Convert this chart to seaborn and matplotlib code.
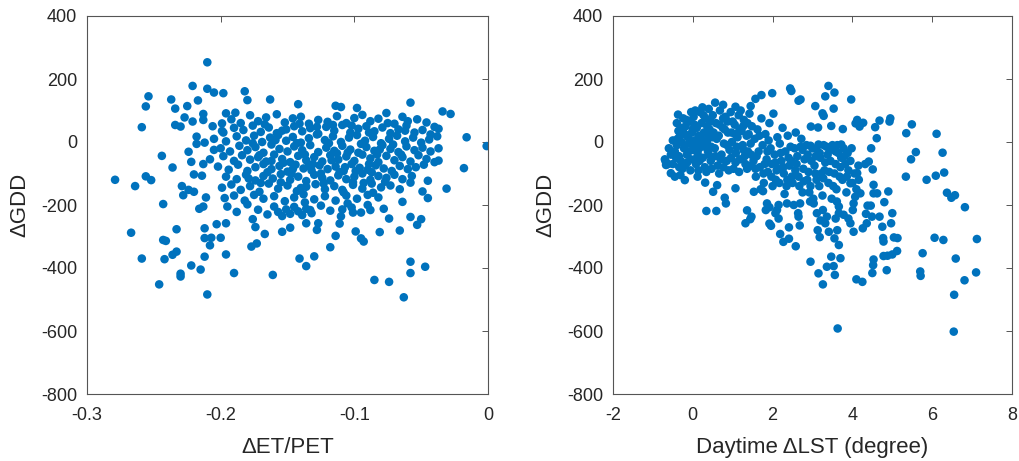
import numpy as np
import pandas as pd
import matplotlib
matplotlib.use("Agg")
import matplotlib.pyplot as plt
import seaborn as sns

# ---------------- data ----------------
# Left panel: (dET/PET, dGDD)
left_scattered = [
    (-0.210, 253), (-0.221, 178), (-0.210, 169), (-0.205, 157), (-0.198, 155),
    (-0.254, 145), (-0.256, 113), (-0.237, 135), (-0.234, 106), (-0.225, 114),
    (-0.217, 132), (-0.259, 47), (-0.234, 54), (-0.230, 49), (-0.227, 78),
    (-0.221, 65), (-0.213, 89), (-0.182, 161), (-0.180, 133), (-0.163, 135),
    (-0.142, 120), (-0.114, 115), (-0.110, 111), (-0.098, 108), (-0.058, 125),
    (-0.034, 97), (-0.028, 89), (-0.016, 15), (-0.001, -13), (-0.018, -83),
    (-0.031, -148), (-0.037, -59), (-0.037, 42), (-0.045, -178), (-0.049, -157),
    (-0.045, -123), (-0.050, -245), (-0.053, -263), (-0.058, -238), (-0.058, -380),
    (-0.058, -416), (-0.047, -396), (-0.063, -493), (-0.074, -444), (-0.085, -438),
    (-0.066, -281), (-0.074, -243), (-0.081, -286), (-0.064, -190), (-0.058, -129),
    (-0.093, -316), (-0.095, -306), (-0.099, -284), (-0.101, -224), (-0.105, -195),
    (-0.088, -216), (-0.086, -161), (-0.109, -214), (-0.109, -152), (-0.111, -259),
    (-0.114, -298), (-0.118, -334), (-0.128, -279), (-0.130, -363), (-0.136, -394),
    (-0.141, -370), (-0.136, -258), (-0.133, -216), (-0.127, -258), (-0.137, -192),
    (-0.148, -272), (-0.154, -285), (-0.161, -422), (-0.177, -332), (-0.173, -322),
    (-0.167, -292), (-0.174, -270), (-0.176, -245), (-0.190, -416), (-0.196, -357),
    (-0.196, -258), (-0.203, -261), (-0.200, -304), (-0.207, -304), (-0.208, -328),
    (-0.212, -305), (-0.212, -274), (-0.212, -364), (-0.210, -484), (-0.215, -405),
    (-0.222, -392), (-0.230, -418), (-0.230, -427), (-0.233, -348), (-0.236, -358),
    (-0.233, -277), (-0.241, -314), (-0.243, -311), (-0.242, -372), (-0.246, -452),
    (-0.259, -370), (-0.267, -288), (-0.279, -120), (-0.264, -140), (-0.256, -109),
    (-0.252, -121), (-0.243, -197), (-0.244, -44), (-0.236, -81), (-0.229, -140),
    (-0.228, -169), (-0.224, -152), (-0.220, -158), (-0.216, -212), (-0.213, -205),
    (-0.211, -176), (-0.220, -103), (-0.214, -107), (-0.224, -31), (-0.218, -6),
    (-0.218, 17), (-0.212, -2), (-0.205, -25), (-0.222, -63), (-0.213, -70),
    (-0.206, 50), (-0.213, 70), (-0.199, 59), (-0.196, 91), (-0.189, 93),
    (-0.199, 35),
]
left_core = [
    (-0.192, 72), (-0.185, 60), (-0.178, 85), (-0.172, 66), (-0.166, 78), (-0.158, 88),
    (-0.152, 62), (-0.146, 75), (-0.140, 80), (-0.134, 58), (-0.127, 70), (-0.120, 64),
    (-0.113, 82), (-0.106, 60), (-0.100, 76), (-0.094, 86), (-0.088, 66), (-0.082, 74),
    (-0.076, 92), (-0.070, 58), (-0.064, 80), (-0.060, 66), (-0.053, 72), (-0.046, 62),
    (-0.198, 30), (-0.190, 45), (-0.183, 38), (-0.176, 52), (-0.170, 32), (-0.164, 46),
    (-0.158, 28), (-0.151, 40), (-0.145, 50), (-0.139, 34), (-0.133, 44), (-0.127, 26),
    (-0.121, 48), (-0.115, 36), (-0.109, 54), (-0.103, 30), (-0.097, 42), (-0.091, 50),
    (-0.085, 34), (-0.079, 46), (-0.073, 28), (-0.067, 40), (-0.061, 52), (-0.055, 30),
    (-0.049, 38), (-0.043, 24), (-0.040, 48),
    (-0.205, 10), (-0.196, 2), (-0.188, 18), (-0.181, 5), (-0.175, 20), (-0.169, 0),
    (-0.163, 14), (-0.157, 22), (-0.151, 4), (-0.146, 16), (-0.140, -2), (-0.134, 12),
    (-0.128, 24), (-0.122, 6), (-0.116, 18), (-0.110, 0), (-0.104, 14), (-0.098, 22),
    (-0.092, 4), (-0.086, 16), (-0.080, -4), (-0.074, 10), (-0.068, 20), (-0.062, 2),
    (-0.056, 14), (-0.050, -2), (-0.044, 8), (-0.038, 18),
    (-0.200, -20), (-0.193, -30), (-0.186, -12), (-0.180, -26), (-0.174, -16),
    (-0.168, -34), (-0.162, -8), (-0.156, -22), (-0.150, -30), (-0.145, -14),
    (-0.139, -26), (-0.133, -10), (-0.127, -32), (-0.121, -18), (-0.115, -28),
    (-0.109, -12), (-0.103, -24), (-0.097, -34), (-0.091, -16), (-0.085, -28),
    (-0.079, -10), (-0.073, -22), (-0.067, -32), (-0.061, -14), (-0.055, -26),
    (-0.049, -18), (-0.043, -30), (-0.037, -20),
    (-0.208, -55), (-0.198, -45), (-0.190, -60), (-0.184, -42), (-0.178, -56),
    (-0.172, -48), (-0.166, -62), (-0.160, -40), (-0.154, -54), (-0.148, -64),
    (-0.142, -44), (-0.136, -58), (-0.130, -48), (-0.124, -62), (-0.118, -42),
    (-0.112, -56), (-0.106, -46), (-0.100, -60), (-0.094, -40), (-0.088, -52),
    (-0.082, -64), (-0.076, -44), (-0.070, -58), (-0.064, -48), (-0.058, -62),
    (-0.052, -42), (-0.046, -54), (-0.040, -64),
    (-0.202, -78), (-0.194, -88), (-0.187, -72), (-0.180, -92), (-0.174, -80),
    (-0.168, -70), (-0.162, -86), (-0.156, -76), (-0.150, -94), (-0.144, -72),
    (-0.138, -84), (-0.132, -90), (-0.126, -74), (-0.120, -86), (-0.114, -78),
    (-0.108, -92), (-0.102, -70), (-0.096, -82), (-0.090, -88), (-0.084, -74),
    (-0.078, -84), (-0.072, -92), (-0.066, -76), (-0.060, -86), (-0.054, -80),
    (-0.048, -72),
    (-0.196, -110), (-0.188, -118), (-0.181, -104), (-0.174, -122), (-0.168, -108),
    (-0.161, -116), (-0.155, -102), (-0.148, -120), (-0.142, -110), (-0.136, -124),
    (-0.130, -104), (-0.124, -114), (-0.118, -122), (-0.112, -106), (-0.106, -118),
    (-0.100, -110), (-0.094, -100), (-0.088, -120), (-0.082, -108), (-0.076, -114),
    (-0.070, -104), (-0.064, -118), (-0.057, -108),
    (-0.199, -145), (-0.192, -135), (-0.185, -152), (-0.178, -140), (-0.171, -158),
    (-0.164, -132), (-0.157, -148), (-0.150, -138), (-0.143, -156), (-0.136, -142),
    (-0.129, -134), (-0.122, -150), (-0.115, -140), (-0.108, -160), (-0.101, -136),
    (-0.094, -148), (-0.087, -132), (-0.080, -144), (-0.073, -138), (-0.066, -150),
    (-0.197, -178), (-0.190, -170), (-0.182, -186), (-0.175, -168), (-0.168, -180),
    (-0.160, -172), (-0.152, -188), (-0.145, -176), (-0.138, -166), (-0.130, -182),
    (-0.122, -172), (-0.114, -186), (-0.106, -170), (-0.098, -180), (-0.090, -168),
    (-0.082, -176),
    (-0.195, -205), (-0.188, -222), (-0.180, -198), (-0.172, -215), (-0.165, -230),
    (-0.160, -205), (-0.157, -222), (-0.154, -235), (-0.151, -214), (-0.148, -228),
    (-0.145, -206), (-0.142, -220), (-0.139, -232), (-0.136, -212), (-0.132, -226),
    (-0.125, -202), (-0.118, -218), (-0.110, -236), (-0.102, -208), (-0.095, -224),
    (-0.090, -200), (-0.078, -212),
]
left_center = [
    (-0.176, -4), (-0.171, -42), (-0.165, -96), (-0.159, 6), (-0.153, -66),
    (-0.147, -100), (-0.143, -4), (-0.137, -40), (-0.131, -70), (-0.125, -100),
    (-0.119, -4), (-0.113, -36), (-0.107, -80), (-0.101, -128), (-0.095, -6),
    (-0.089, -70), (-0.083, -40), (-0.077, -126), (-0.071, -8), (-0.065, -40),
    (-0.179, -116), (-0.170, -130), (-0.162, -60), (-0.155, -128), (-0.146, -86),
    (-0.140, -146), (-0.134, -76), (-0.123, -132), (-0.117, -58), (-0.111, -96),
    (-0.105, -34), (-0.099, -92), (-0.093, -130), (-0.087, -96), (-0.081, -24),
    (-0.167, 56), (-0.154, 36), (-0.141, 58), (-0.128, 48), (-0.116, 54),
    (-0.102, 52), (-0.089, 30), (-0.075, 60), (-0.062, 36),
]

# Right panel: (daytime dLST, dGDD)
right_scattered = [
    (3.40, 178), (3.55, 157), (3.32, 145), (3.53, 106), (3.97, 135), (2.44, 170),
    (2.47, 162), (1.99, 155), (1.72, 149), (1.57, 137), (1.45, 114), (1.07, 112),
    (0.56, 125), (0.76, 118), (-0.37, 87), (2.65, 131), (2.70, 135), (3.07, 114),
    (3.25, 91), (3.28, 83), (2.96, 49), (3.14, 46), (3.47, 51), (3.76, 41),
    (4.12, 70), (4.27, 61), (4.08, 59), (4.18, 49), (4.57, 47), (4.68, 68),
    (4.95, 75), (4.93, 65), (4.61, 12), (4.47, -20), (5.35, 28), (5.49, 56),
    (6.11, 26), (5.59, -32), (5.47, -55), (6.26, -34), (5.34, -110), (5.86, -120),
    (6.09, -107), (6.30, -97), (6.37, -161), (6.48, -177), (6.57, -169), (6.82, -207),
    (6.06, -304), (6.28, -311), (7.12, -308), (6.59, -370), (7.10, -414), (6.81, -439),
    (6.55, -485), (6.54, -602), (3.63, -592), (5.76, -353), (5.70, -411), (5.71, -425),
    (5.13, -305), (5.04, -303), (5.12, -346), (5.00, -357), (4.88, -361), (4.78, -362),
    (4.86, -407), (4.53, -373), (4.52, -391), (4.50, -416), (4.25, -444), (4.10, -436),
    (4.77, -305), (4.78, -316), (4.75, -269), (4.97, -258), (5.00, -226), (4.68, -237),
    (4.49, -237), (4.36, -258), (4.26, -274), (4.03, -285), (4.80, -191), (4.90, -157),
    (4.53, -163), (4.62, -163), (4.53, -136), (4.51, -87), (4.41, -62), (4.32, -70),
    (4.46, -202), (4.38, -202), (4.34, -228), (3.70, -369), (3.47, -364), (3.56, -422),
    (3.36, -396), (3.53, -394), (3.26, -452), (3.15, -417), (2.95, -380), (2.58, -331),
    (2.27, -317), (2.41, -307), (2.19, -292), (2.41, -271), (2.68, -265), (1.96, -266),
    (1.92, -259), (1.32, -258), (1.44, -245), (1.47, -237), (1.36, -217), (0.59, -219),
    (0.34, -219), (0.80, -177), (0.83, -195), (0.51, -158), (0.61, -137), (0.31, -129),
    (0.12, -110), (-0.20, -121), (-0.45, -110), (-0.55, -99), (-0.31, -105), (-0.68, -62),
    (-0.67, -73), (1.07, -147), (1.53, -158), (1.76, -156), (3.61, -189), (3.66, -205),
    (3.66, -226), (3.58, -243), (3.36, -237), (3.32, -258), (3.41, -285), (3.55, -306),
    (3.66, -327), (3.62, -280), (3.13, -280), (3.18, -302), (3.20, -249), (3.26, -216),
    (3.11, -226), (3.03, -195), (2.94, -189), (2.69, -195), (2.64, -226), (2.65, -237),
    (2.53, -200), (2.36, -195), (2.15, -200), (2.11, -216), (2.07, -226), (2.15, -243),
    (1.83, -216), (1.92, -207), (1.86, -195), (3.78, -231), (3.90, -243), (3.95, -258),
    (4.01, -216), (4.03, -195), (4.07, -174), (4.20, -163), (3.95, -131), (3.86, -110),
    (4.12, -99), (4.16, -120),
]
right_core = [
    (-0.45, -30), (-0.40, -10), (-0.38, 10), (-0.35, -45), (-0.32, 20), (-0.30, -60),
    (-0.28, 0), (-0.25, 35), (-0.22, -20), (-0.20, -75), (-0.18, 50), (-0.15, -40),
    (-0.12, 15), (-0.10, -5), (-0.08, 65), (-0.05, -55), (-0.02, 30), (0.00, -25),
    (0.02, 80), (0.05, 5), (0.08, -70), (0.10, 45), (0.12, -35), (0.15, 20),
    (0.18, 95), (0.20, -10), (0.22, 60), (0.25, -50), (0.28, 30), (0.30, -80),
    (0.32, 75), (0.35, 0), (0.38, -30), (0.40, 105), (0.42, 40), (0.45, -60),
    (0.48, 15), (0.50, 85), (-0.42, -50), (-0.36, 35), (-0.26, -85), (-0.16, 70),
    (-0.06, -90), (0.04, 55), (0.14, -90), (0.24, 110), (0.34, -95), (0.44, 65),
    (-0.30, 45), (-0.20, 25), (-0.10, -30), (0.00, 40), (0.10, -50), (0.20, 10),
    (0.30, -15), (0.40, -40), (-0.55, -40), (-0.60, -20), (-0.50, 5), (0.06, 100),
    (0.16, -20), (0.26, 5), (0.36, 50), (0.46, -15), (-0.70, -55), (-0.62, -70),
    (0.55, -20), (0.58, 60), (0.62, -75), (0.65, 20), (0.68, 100), (0.72, -40),
    (0.75, 45), (0.78, -5), (0.82, 80), (0.85, -60), (0.88, 30), (0.92, -25),
    (0.95, 95), (0.98, 0), (1.02, -85), (1.05, 55), (1.08, -35), (1.12, 15),
    (1.15, 85), (1.18, -55), (1.22, 35), (1.25, -10), (1.28, 70), (1.32, -70),
    (1.35, 20), (1.38, -30), (1.42, 90), (1.45, -5), (1.48, 50), (0.60, 10),
    (0.70, -55), (0.80, 40), (0.90, -90), (1.00, 65), (1.10, -15), (1.20, 100),
    (1.30, -45), (1.40, 25), (0.52, 30), (0.66, -100), (0.76, 75), (0.86, -10),
    (0.96, -50), (1.06, 25), (1.16, -95), (1.26, 50), (1.36, -85), (1.46, -40),
    (1.52, -60), (1.55, 10), (1.58, -110), (1.62, 40), (1.65, -30), (1.68, -80),
    (1.72, 75), (1.75, -10), (1.78, -130), (1.82, 25), (1.85, -55), (1.88, -95),
    (1.92, 60), (1.95, -20), (1.98, -70), (2.02, 90), (2.05, -40), (2.08, -120),
    (2.12, 15), (2.15, -85), (2.18, -5), (2.22, -60), (2.25, 45), (2.28, -100),
    (2.32, -30), (2.35, -140), (2.38, 20), (2.42, -75), (2.45, -15), (2.48, -110),
    (1.60, -45), (1.70, -150), (1.80, -70), (1.90, 5), (2.00, -140), (2.10, -90),
    (2.20, -35), (2.30, -165), (2.40, -50), (2.50, -130),
    (2.55, -20), (2.60, -70), (2.65, -110), (2.70, -15), (2.75, -160), (2.80, -55),
    (2.85, -10), (2.90, -95), (2.95, -140), (3.00, -20), (3.05, -75), (3.10, -120),
    (3.15, -8), (3.20, -50), (3.25, -170), (3.30, -90), (3.35, -15), (3.40, -130),
    (3.45, -60), (3.50, -10), (3.55, -100), (3.60, -150), (3.65, -35), (3.70, -80),
    (3.75, -120), (3.80, -45), (3.85, -160), (3.90, -90), (3.95, -60), (4.00, -130),
    (4.05, -100), (4.10, -150), (2.58, 30), (2.72, 10), (2.88, -40), (3.02, -180),
    (3.18, -35), (3.32, -65), (3.48, -180), (3.62, -10), (3.78, -20), (2.62, -45),
    (2.78, -125), (2.92, -160), (3.08, -45), (3.22, -100), (3.38, -40), (3.52, -140),
    (3.68, -110), (3.82, -70), (3.98, -20), (4.15, -75),
]
right_center = [
    (-0.50, -70), (-0.40, 60), (-0.34, -80), (-0.24, 75), (-0.14, -65), (-0.04, 95),
    (0.07, -15), (0.17, -60), (0.27, 85), (0.37, 25), (0.47, -85), (0.57, -45),
    (0.67, 55), (0.77, -80), (0.87, 65), (0.97, 30), (1.07, -65), (1.17, 40),
    (1.27, -25), (1.37, 60), (1.47, -75), (1.57, -85), (1.67, 20), (1.77, -100),
    (1.87, -30), (1.97, -110), (2.07, -65), (2.17, -130), (2.27, -80), (2.37, -120),
    (2.47, -60), (2.57, -90), (2.67, -140), (2.77, -85), (2.87, -120), (2.97, -60),
    (3.07, -100), (3.17, -140), (3.27, -115), (3.42, -95), (3.58, -70), (3.72, -50),
    (2.75, -25), (2.95, -12), (3.10, -22), (3.28, -10), (3.44, -25), (3.58, -30),
    (3.72, -8), (3.88, -35),
]

left_xticks = [-0.3, -0.2, -0.1, 0]
left_xticklabels = ["-0.3", "-0.2", "-0.1", "0"]
right_xticks = [-2, 0, 2, 4, 6, 8]
yticks = [-800, -600, -400, -200, 0, 200, 400]

left_df = pd.DataFrame(left_scattered + left_core + left_center, columns=["x", "y"])
right_df = pd.DataFrame(right_scattered + right_core + right_center, columns=["x", "y"])

# ---------------- style ----------------
sns.set_theme(style="white")
plt.rcParams["font.family"] = ["Liberation Sans", "DejaVu Sans"]

DOT = "#0072BD"
AXC = "#555555"

fig = plt.figure(figsize=(10.19, 4.61), dpi=100)
ax1 = fig.add_axes([87 / 1019, 67 / 461, 401 / 1019, 378 / 461])
ax2 = fig.add_axes([613 / 1019, 67 / 461, 399 / 1019, 378 / 461])

for ax, df, xlim, xt, xl in [
    (ax1, left_df, (-0.3, 0), left_xticks, "\u0394ET/PET"),
    (ax2, right_df, (-2, 8), right_xticks, "Daytime \u0394LST (degree)"),
]:
    sns.scatterplot(data=df, x="x", y="y", ax=ax, color=DOT, s=38,
                    linewidth=0, edgecolor="none", alpha=1.0, legend=False)
    ax.set_xlim(*xlim)
    ax.set_ylim(-800, 400)
    ax.set_xticks(xt)
    ax.set_yticks(yticks)
    ax.set_yticklabels([str(v) for v in yticks])
    ax.set_xlabel(xl, fontsize=16, color="#262626", labelpad=10)
    ax.set_ylabel("\u0394GDD", fontsize=16, color="#262626", labelpad=8)
    ax.tick_params(direction="in", length=4, width=0.7, color=AXC,
                   top=True, right=True, labelsize=13, labelcolor="#262626")
    ax.tick_params(axis="x", pad=9)
    ax.tick_params(axis="y", pad=7)
    for sp in ax.spines.values():
        sp.set_visible(True)
        sp.set_color(AXC)
        sp.set_linewidth(0.8)
    ax.grid(False)

ax1.set_xticklabels(left_xticklabels)
ax2.set_xticklabels([str(v) for v in right_xticks])

fig.savefig("out.png", dpi=100)
